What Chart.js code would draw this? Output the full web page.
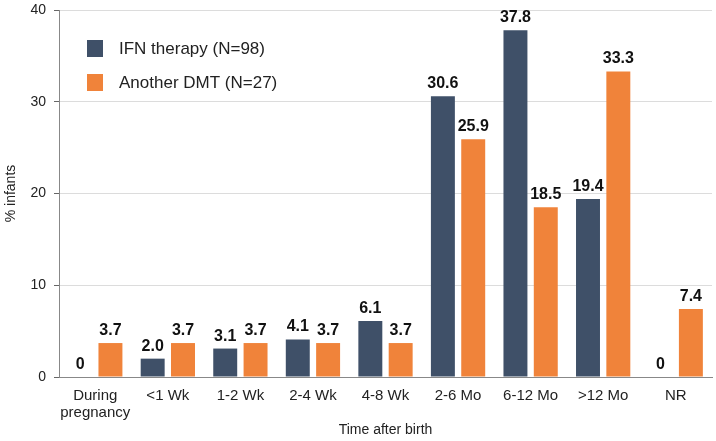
<!DOCTYPE html>
<html><head><meta charset="utf-8">
<style>html,body{margin:0;padding:0;background:#fff}#wrap{width:716px;height:441px}</style>
<script src="https://cdn.jsdelivr.net/npm/chart.js@4/dist/chart.umd.min.js"></script>
</head><body><div id="wrap"><canvas id="c" width="716" height="441"></canvas></div>
<script>
const categories = [["During","pregnancy"],"<1 Wk","1-2 Wk","2-4 Wk","4-8 Wk","2-6 Mo","6-12 Mo",">12 Mo","NR"];
const ifnValues = [0,2.0,3.1,4.1,6.1,30.6,37.8,19.4,0];
const dmtValues = [3.7,3.7,3.7,3.7,3.7,25.9,18.5,33.3,7.4];
const seriesLabels = ["IFN therapy (N=98)","Another DMT (N=27)"];
const yTicks = [0,10,20,30,40];
const colors = ["#3f5068","#f0833a"];
const FONT = "'Liberation Sans', Arial, sans-serif";

const valueLabels = {
  id:'valueLabels',
  afterDatasetsDraw(chart){
    const ctx = chart.ctx;
    ctx.save();
    ctx.font = "bold 16px " + FONT;
    ctx.fillStyle = "#111";
    ctx.textAlign = "center";
    ctx.textBaseline = "alphabetic";
    chart.data.datasets.forEach((ds,i)=>{
      chart.getDatasetMeta(i).data.forEach((bar,j)=>{
        const v = ds.data[j];
        const txt = v === 0 ? "0" : v.toFixed(1);
        ctx.fillText(txt, bar.x, bar.y - 8);
      });
    });
    ctx.restore();
  }
};
const customLegend = {
  id:'customLegend',
  afterDraw(chart){
    const ctx = chart.ctx;
    ctx.save();
    ctx.font = "17px " + FONT;
    ctx.textBaseline = "middle";
    ctx.textAlign = "left";
    chart.data.datasets.forEach((ds,i)=>{
      const y = 48 + i*34;
      ctx.fillStyle = ds.backgroundColor;
      ctx.fillRect(87, y-8, 16, 17);
      ctx.fillStyle = "#222";
      ctx.fillText(ds.label, 119, y+1);
    });
    ctx.restore();
  }
};

new Chart(document.getElementById('c'), {
  type:'bar',
  data:{
    labels: categories,
    datasets:[
      {label:seriesLabels[0], data:ifnValues, backgroundColor:colors[0]},
      {label:seriesLabels[1], data:dmtValues, backgroundColor:colors[1]}
    ]
  },
  options:{
    responsive:false,
    animation:false,
    devicePixelRatio:1,
    layout:{padding:{top:10,right:4,left:0,bottom:0}},
    datasets:{bar:{categoryPercentage:0.836,barPercentage:0.79}},
    plugins:{legend:{display:false},tooltip:{enabled:false}},
    scales:{
      x:{
        afterFit(s){ s.height = 64; s.paddingLeft = 0; s.paddingRight = 0; },
        grid:{display:false, drawTicks:false},
        border:{color:"#888", width:1},
        ticks:{color:"#222", font:{family:FONT,size:15,lineHeight:1.15}, padding:10, maxRotation:0, autoSkip:false},
        title:{display:true, text:"Time after birth", color:"#222", font:{family:FONT,size:14}, padding:{top:0,bottom:2}}
      },
      y:{
        min:0,max:40,
        afterFit(s){ s.width = 59; s.paddingTop = 0; s.paddingBottom = 0; },
        afterBuildTicks(axis){ axis.ticks = yTicks.map(v=>({value:v})); },
        grid:{color:"#dcdcdc", tickColor:"#666", tickLength:5},
        border:{color:"#888", width:1},
        ticks:{color:"#222", font:{family:FONT,size:14}, padding:8},
        title:{display:true, text:"% infants", color:"#222", font:{family:FONT,size:14}, padding:{top:3,bottom:0}}
      }
    }
  },
  plugins:[valueLabels, customLegend]
});
</script></body></html>
